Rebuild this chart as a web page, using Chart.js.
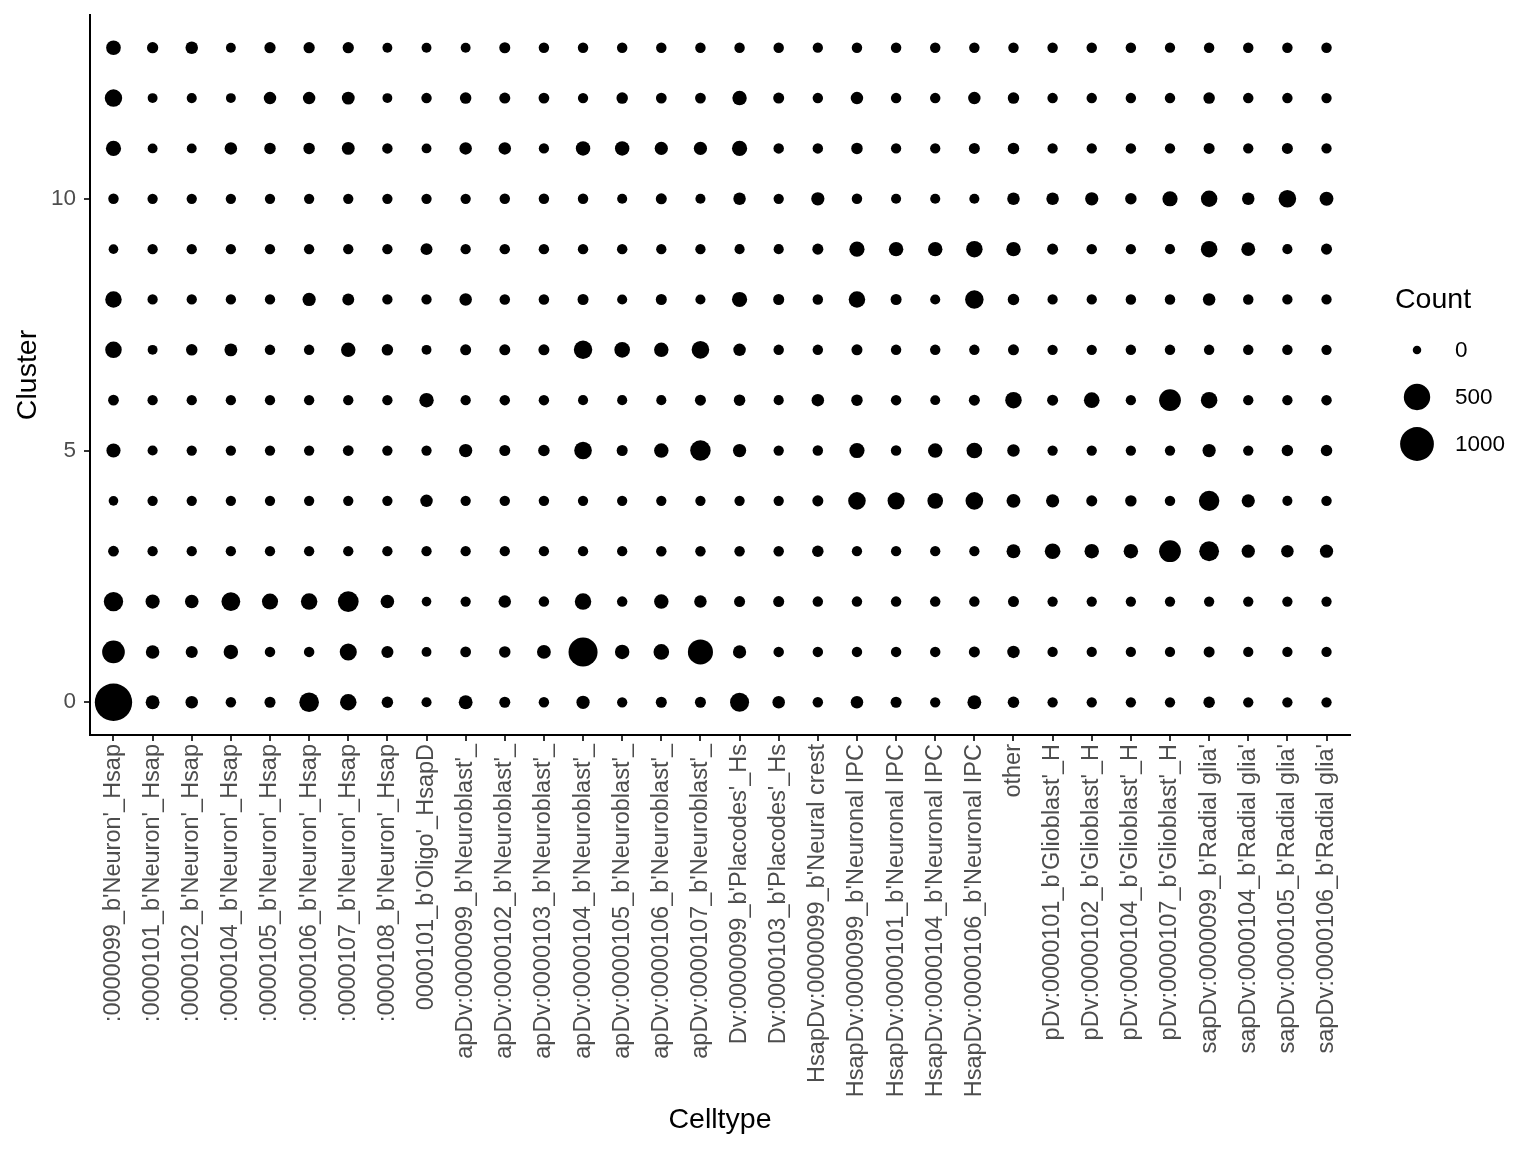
<!DOCTYPE html>
<html>
<head>
<meta charset="utf-8">
<script src="https://cdn.jsdelivr.net/npm/chart.js@4.4.1/dist/chart.umd.min.js"></script>
<style>
html,body{margin:0;padding:0;background:#ffffff;}
canvas{display:block;}
</style>
</head>
<body>
<canvas id="c" width="1536" height="1152"></canvas>
<script>
// ---------- data ----------
const celltypes = [
  ":0000099_b'Neuron'_Hsap", ":0000101_b'Neuron'_Hsap", ":0000102_b'Neuron'_Hsap", ":0000104_b'Neuron'_Hsap",
  ":0000105_b'Neuron'_Hsap", ":0000106_b'Neuron'_Hsap", ":0000107_b'Neuron'_Hsap", ":0000108_b'Neuron'_Hsap",
  "0000101_b'Oligo'_HsapD", "apDv:0000099_b'Neuroblast'_", "apDv:0000102_b'Neuroblast'_", "apDv:0000103_b'Neuroblast'_",
  "apDv:0000104_b'Neuroblast'_", "apDv:0000105_b'Neuroblast'_", "apDv:0000106_b'Neuroblast'_", "apDv:0000107_b'Neuroblast'_",
  "Dv:0000099_b'Placodes'_Hs", "Dv:0000103_b'Placodes'_Hs", "HsapDv:0000099_b'Neural crest", "HsapDv:0000099_b'Neuronal IPC",
  "HsapDv:0000101_b'Neuronal IPC", "HsapDv:0000104_b'Neuronal IPC", "HsapDv:0000106_b'Neuronal IPC", "other",
  "pDv:0000101_b'Glioblast'_H", "pDv:0000102_b'Glioblast'_H", "pDv:0000104_b'Glioblast'_H", "pDv:0000107_b'Glioblast'_H",
  "sapDv:0000099_b'Radial glia'", "sapDv:0000104_b'Radial glia'", "sapDv:0000105_b'Radial glia'", "sapDv:0000106_b'Radial glia'"
];
const clusters = [0,1,2,3,4,5,6,7,8,9,10,11,12,13];
const yTickValues = [0,5,10];
const legendBreaks = [0,500,1000];

// counts per cluster, one value per celltype (same order as celltypes)
const countsCluster0  = [1300,45,25,6,10,195,100,14,4,45,10,6,35,5,10,10,175,25,6,25,10,5,45,14,5,5,5,5,14,5,5,5];
const countsCluster1  = [315,40,20,55,6,6,115,20,3,8,14,45,660,55,80,430,35,6,6,6,6,6,10,25,5,5,5,5,10,5,5,5];
const countsCluster2  = [185,50,40,165,90,100,235,40,2,5,25,6,100,6,55,25,10,10,6,6,6,6,6,10,5,5,5,5,5,5,5,5];
const countsCluster3  = [8,5,5,5,5,5,5,5,5,5,5,5,5,5,6,6,6,6,14,5,5,5,5,45,80,55,55,275,200,35,25,35];
const countsCluster4  = [2,5,5,5,5,5,5,5,25,5,6,6,5,5,5,5,5,5,10,130,115,80,130,45,35,10,14,6,222,35,4,6];
const countsCluster5  = [50,4,5,5,5,5,8,5,5,35,10,14,130,10,55,222,35,5,6,70,6,55,80,25,5,5,5,5,35,5,14,14];
const countsCluster6  = [8,5,5,5,5,5,5,5,55,5,6,6,4,4,4,10,14,4,25,14,6,3,10,100,10,80,5,275,100,5,5,6];
const countsCluster7  = [100,3,14,30,6,6,55,14,3,10,10,10,155,80,55,130,25,6,6,10,6,6,6,10,5,5,6,6,6,6,6,5];
const countsCluster8  = [100,5,5,5,5,35,18,5,5,25,6,6,10,4,10,4,70,10,6,100,10,4,155,14,5,5,6,6,25,6,5,5];
const countsCluster9  = [2,5,5,5,5,5,5,5,18,5,6,6,6,6,5,5,4,4,10,70,55,55,100,55,10,6,5,4,100,45,4,10];
const countsCluster10 = [6,5,5,5,5,5,5,5,5,5,6,6,6,4,10,4,25,5,35,6,4,4,4,25,25,35,14,70,100,25,130,45];
const countsCluster11 = [70,3,3,25,14,14,30,6,3,25,25,5,55,55,35,35,70,6,6,14,5,5,10,14,5,5,6,5,10,5,10,5];
const countsCluster12 = [125,3,4,3,25,25,30,3,6,14,10,8,5,14,8,8,55,10,6,25,6,6,25,14,6,6,6,6,14,6,6,5];
const countsCluster13 = [60,12,25,3,12,12,12,3,3,3,10,6,6,6,6,6,6,6,5,6,6,6,6,6,6,6,6,5,6,6,6,6];

const countsByCluster = [countsCluster0,countsCluster1,countsCluster2,countsCluster3,countsCluster4,
  countsCluster5,countsCluster6,countsCluster7,countsCluster8,countsCluster9,countsCluster10,
  countsCluster11,countsCluster12,countsCluster13];

// ---------- size mapping (area ~ count) ----------
function dotRadius(v){ return (8.5 + 0.8*Math.sqrt(Math.max(0,v)))/2; }

const points = [];
clusters.forEach((k) => {
  celltypes.forEach((name, i) => {
    points.push({x: i, y: k, count: countsByCluster[k][i]});
  });
});

const FONT = 'Liberation Sans';
Chart.defaults.font.family = FONT;

const sizeLegend = {
  id: 'sizeLegend',
  afterDraw(chart) {
    const ctx = chart.ctx;
    ctx.save();
    ctx.fillStyle = '#000';
    ctx.textAlign = 'left';
    ctx.textBaseline = 'middle';
    ctx.font = '28.5px "' + FONT + '"';
    ctx.fillText('Count', 1395, 300);
    ctx.font = '22.5px "' + FONT + '"';
    legendBreaks.forEach((b, j) => {
      const cy = 350 + j*47;
      ctx.beginPath();
      ctx.arc(1417, cy, dotRadius(b), 0, Math.PI*2);
      ctx.fill();
      ctx.fillText(String(b), 1455, cy + 1);
    });
    ctx.restore();
  }
};

new Chart(document.getElementById('c'), {
  type: 'bubble',
  data: {
    datasets: [{
      label: 'Count',
      data: points,
      backgroundColor: '#000000',
      borderWidth: 0,
      radius: (ctx) => ctx.raw ? dotRadius(ctx.raw.count) : 3,
      hoverRadius: 0
    }]
  },
  options: {
    responsive: false,
    animation: false,
    events: [],
    layout: { autoPadding: false, padding: { left: 0, right: 186, top: 15, bottom: 0 } },
    plugins: { legend: { display: false }, tooltip: { enabled: false } },
    scales: {
      x: {
        type: 'linear',
        min: -0.6, max: 31.6,
        afterBuildTicks: (s) => { s.ticks = celltypes.map((_, i) => ({ value: i })); },
        afterFit: (s) => { s.height = 417; s.paddingLeft = 0; s.paddingRight = 0; },
        ticks: {
          autoSkip: false, minRotation: 90, maxRotation: 90,
          callback: (v) => celltypes[v],
          color: '#4d4d4d', font: { family: FONT, size: 23.5 }, padding: 3
        },
        grid: { drawOnChartArea: false, drawTicks: true, tickLength: 6, color: '#333333', lineWidth: 2 },
        border: { display: true, color: '#000000', width: 2 },
        title: { display: true, text: 'Celltype', color: '#000000', font: { family: FONT, size: 28.5 }, padding: { top: 0, bottom: 15 } }
      },
      y: {
        type: 'linear',
        min: -0.65, max: 13.65,
        afterBuildTicks: (s) => { s.ticks = yTickValues.map((v) => ({ value: v })); },
        afterFit: (s) => { s.width = 90; s.paddingTop = 0; s.paddingBottom = 0; },
        ticks: { color: '#4d4d4d', font: { family: FONT, size: 22.5 }, padding: 8 },
        grid: { drawOnChartArea: false, drawTicks: true, tickLength: 6, color: '#333333', lineWidth: 2 },
        border: { display: true, color: '#000000', width: 2 },
        title: { display: true, text: 'Cluster', color: '#000000', font: { family: FONT, size: 28.5 }, padding: { top: 11, bottom: 0 } }
      }
    }
  },
  plugins: [sizeLegend]
});
</script>
</body>
</html>
